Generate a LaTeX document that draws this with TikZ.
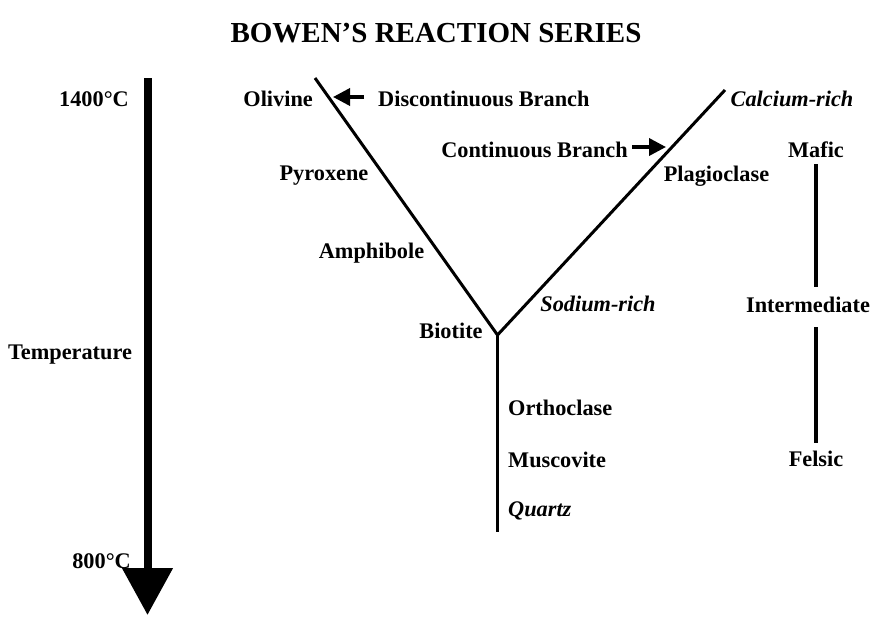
\documentclass[tikz,border=0pt]{standalone}
\usepackage{fontspec}
\setmainfont{Liberation Serif}
\usetikzlibrary{arrows.meta}
\begin{document}
\begin{tikzpicture}[x=1pt,y=-1pt,
  lbl/.style={font=\fontsize{22.3}{26}\selectfont\bfseries, inner sep=0pt},
  ilbl/.style={font=\fontsize{22.3}{26}\selectfont\bfseries\itshape, inner sep=0pt},
  branch/.style={line width=3pt},
  scaleline/.style={line width=3.6pt},
  small/.style={line width=3.6pt,-{Triangle[length=17pt,width=17pt]}}]
\useasboundingbox (0,0) rectangle (874,616);
% title
\node[font=\fontsize{29}{33}\selectfont\bfseries, inner sep=0pt] (title) at (436,33) {BOWEN’S REACTION SERIES};
% temperature arrow
\coordinate (ta) at (147.5,78);
\coordinate (tb) at (147.5,615);
\draw[line width=8pt,-{Triangle[length=47pt,width=49pt]}] (ta) -- (tb);
\node[lbl, anchor=east] (t1400) at (129,99) {1400°C};
\node[lbl] (temp) at (70,355) {Temperature};
\node[lbl, anchor=east] (t800) at (131,561) {800°C};
% branches
\coordinate (top-l) at (315,78);
\coordinate (top-r) at (725,90);
\coordinate (fork) at (497.5,335);
\coordinate (bot) at (497.5,532);
\draw[branch, line join=miter] (top-l) -- (fork) -- (top-r);
\draw[branch] (fork) -- (bot);
% left labels
\node[lbl, anchor=east] (olivine) at (313,99) {Olivine};
\node[lbl, anchor=west] (disc) at (378,99) {Discontinuous Branch};
\coordinate (da) at (364,97);
\coordinate (db) at (333,97);
\draw[small] (da) -- (db);
\node[lbl] (pyroxene) at (324,176) {Pyroxene};
\node[lbl] (amphibole) at (371.5,253) {Amphibole};
\node[lbl] (biotite) at (451,331) {Biotite};
% right labels
\node[lbl, anchor=east] (cont) at (628,150) {Continuous Branch};
\coordinate (ca) at (632,147);
\coordinate (cb) at (666,147);
\draw[small] (ca) -- (cb);
\node[ilbl] (calcium) at (792,99) {Calcium-rich};
\node[lbl] (plagio) at (716.5,176) {Plagioclase};
\node[ilbl] (sodium) at (598,304) {Sodium-rich};
% bottom labels
\node[lbl, anchor=west] (ortho) at (508,408) {Orthoclase};
\node[lbl, anchor=west] (musco) at (508,460) {Muscovite};
\node[ilbl, anchor=west] (quartz) at (508,511) {Quartz};
% composition scale
\node[lbl] (mafic) at (816,150) {Mafic};
\node[lbl] (inter) at (808,305) {Intermediate};
\node[lbl] (felsic) at (816,459) {Felsic};
\coordinate (m1) at (816,164);
\coordinate (m2) at (816,287);
\coordinate (f1) at (816,327);
\coordinate (f2) at (816,443);
\draw[scaleline] (m1) -- (m2);
\draw[scaleline] (f1) -- (f2);
\end{tikzpicture}
\end{document}
